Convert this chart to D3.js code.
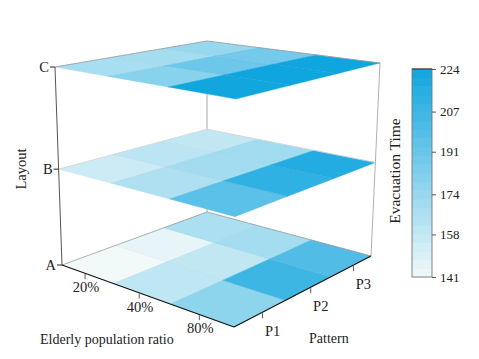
<!DOCTYPE html>
<html>
<head>
<meta charset="utf-8">
<script src="https://cdn.jsdelivr.net/npm/d3@7"></script>
<style>
  html, body { margin: 0; padding: 0; background: #fff; }
  text { font-family: "Liberation Serif", serif; fill: #222; }
</style>
</head>
<body>
<svg id="chart" width="479" height="359"></svg>
<script>
'use strict';

// rows are elderly ratio (20, 40, 80), columns are pattern (P1, P2, P3)
var ratios = ['20%', '40%', '80%'];
var patterns = ['P1', 'P2', 'P3'];
var layouts = ['A', 'B', 'C'];
var valuesA = [[141, 145, 167], [160, 159, 169], [178, 207, 200]];
var valuesB = [[155, 161, 159], [166, 170, 171], [196, 212, 217]];
var valuesC = [[168, 169, 174], [180, 190, 187], [223, 224, 224]];
var colorTicks = [141, 158, 174, 191, 207, 224];

var layerValues = [valuesA, valuesB, valuesC];

var svg = d3.select('#chart');

// frame corners of the floor and the lid, order: left, front, right, back
var floorCorners = [[62, 265], [234, 327], [371, 256], [207, 212]];
var lidCorners = [[55, 67], [236, 99], [380, 63], [207, 41]];

var z = d3.scalePoint().domain(layouts).range([0, 1]);
var zHeight = d3.scaleLinear().domain([0, 0.5, 1]).range([0, 0.484, 1]);
var u = d3.scaleLinear().domain([0, ratios.length]).range([0, 1]);
var v = d3.scaleLinear().domain([0, patterns.length]).range([0, 1]);

var color = d3.scaleLinear().domain([141, 224]).range(['#f2f9f9', '#0fa5df']).interpolate(d3.interpolateRgb);

// unit square to quad, perspective
function makeHomography(q) {
  var dx1 = q[1][0] - q[2][0], dx2 = q[3][0] - q[2][0], sx = q[0][0] - q[1][0] + q[2][0] - q[3][0];
  var dy1 = q[1][1] - q[2][1], dy2 = q[3][1] - q[2][1], sy = q[0][1] - q[1][1] + q[2][1] - q[3][1];
  var det = dx1 * dy2 - dx2 * dy1;
  var g = (sx * dy2 - dx2 * sy) / det;
  var h = (dx1 * sy - sx * dy1) / det;
  var a = q[1][0] - q[0][0] + g * q[1][0];
  var b = q[3][0] - q[0][0] + h * q[3][0];
  var d = q[1][1] - q[0][1] + g * q[1][1];
  var e = q[3][1] - q[0][1] + h * q[3][1];
  return function (s, t) {
    var w = g * s + h * t + 1;
    return [(a * s + b * t + q[0][0]) / w, (d * s + e * t + q[0][1]) / w];
  };
}

function layerProjection(layout) {
  var t = zHeight(z(layout));
  var quad = floorCorners.map(function (c, i) {
    return [c[0] + (lidCorners[i][0] - c[0]) * t, c[1] + (lidCorners[i][1] - c[1]) * t];
  });
  var h = makeHomography(quad);
  return function (i, j) {
    return h(u(i), v(j));
  };
}

function linePath(points) {
  return d3.line()(points);
}

function drawSegment(a, b, stroke, width) {
  svg.append('path').attr('d', linePath([a, b])).attr('fill', 'none')
    .attr('stroke', stroke).attr('stroke-width', width);
}

var floor = layerProjection('A');
var lid = layerProjection('C');
var nr = ratios.length;
var np = patterns.length;

// back vertical goes behind the layers
drawSegment(floor(0, np), lid(0, np), '#b8b8b8', 1.2);
drawSegment(floor(nr, np), lid(nr, np), '#9a9a9a', 0.8);

layouts.forEach(function (layout, k) {
  var project = layerProjection(layout);
  var cells = [];
  layerValues[k].forEach(function (row, i) {
    row.forEach(function (value, j) {
      cells.push({ i: i, j: j, value: value });
    });
  });
  var g = svg.append('g').attr('class', 'layer-' + layout);
  g.selectAll('path.cell').data(cells).enter().append('path')
    .attr('class', 'cell')
    .attr('d', function (d) {
      return linePath([project(d.i, d.j), project(d.i + 1, d.j), project(d.i + 1, d.j + 1), project(d.i, d.j + 1)]) + 'Z';
    })
    .attr('fill', function (d) { return color(d.value); })
    .attr('stroke', function (d) { return color(d.value); })
    .attr('stroke-width', 0.4);

  // faint seams at the cell boundaries
  d3.range(1, nr).forEach(function (i) {
    g.append('path').attr('d', linePath([project(i, 0), project(i, np)]))
      .attr('stroke', '#556').attr('stroke-opacity', 0.08).attr('stroke-width', 0.6).attr('fill', 'none');
  });
  d3.range(1, np).forEach(function (j) {
    g.append('path').attr('d', linePath([project(0, j), project(nr, j)]))
      .attr('stroke', '#556').attr('stroke-opacity', 0.08).attr('stroke-width', 0.6).attr('fill', 'none');
  });

  // back edges of the plane
  var edge = layout == 'B' ? '#d4d4d4' : '#9c9c9c';
  g.append('path').attr('d', linePath([project(0, 0), project(0, np), project(nr, np)]))
    .attr('fill', 'none').attr('stroke', edge).attr('stroke-width', 0.8);

  // layout tick and label on the left vertical
  var p = project(0, 0);
  drawSegment([p[0] - 5, p[1]], p, '#222', 1);
  svg.append('text').attr('x', p[0] - 6).attr('y', p[1] + 5)
    .attr('text-anchor', 'end').attr('font-size', 14.5).text(layout);
});

// left vertical and the two front axes
drawSegment(floor(0, 0), lid(0, 0), '#555', 1);
drawSegment(floor(0, 0), floor(nr, 0), '#111', 1.1);
drawSegment(floor(nr, 0), floor(nr, np), '#111', 1.1);

ratios.forEach(function (label, i) {
  var p = floor(i + 0.5, 0);
  drawSegment([p[0] - 2, p[1]], [p[0] - 2, p[1] + 5], '#444', 0.9);
  svg.append('text').attr('x', p[0] - 1).attr('y', p[1] + 18)
    .attr('text-anchor', 'middle').attr('font-size', 14.5).text(label);
});

patterns.forEach(function (label, j) {
  var p = floor(nr, j + 0.5);
  drawSegment([p[0] + 2, p[1]], [p[0] + 2, p[1] + 5], '#444', 0.9);
  svg.append('text').attr('x', p[0] + 12).attr('y', p[1] + 23)
    .attr('text-anchor', 'middle').attr('font-size', 14.5).text(label);
});

svg.append('text').attr('x', 40).attr('y', 344).attr('font-size', 14).text('Elderly population ratio');
svg.append('text').attr('x', 309).attr('y', 343).attr('font-size', 14).text('Pattern');
svg.append('text').attr('transform', 'translate(26,169) rotate(-90)')
  .attr('text-anchor', 'middle').attr('font-size', 14.5).text('Layout');
svg.append('text').attr('transform', 'translate(400,171) rotate(-90)')
  .attr('text-anchor', 'middle').attr('font-size', 15.5).text('Evacuation Time');

// colour bar
var barX = 412;
var barWidth = 20;
var barY = d3.scaleLinear().domain([141, 224]).range([277, 69]);
var bandEdges = d3.range(0, 25).map(function (i) { return 141 + i * (224 - 141) / 24; });
var bar = svg.append('g').attr('class', 'colorbar');
bar.selectAll('rect').data(d3.pairs(bandEdges)).enter().append('rect')
  .attr('x', barX)
  .attr('width', barWidth)
  .attr('y', function (d) { return barY(d[1]); })
  .attr('height', function (d) { return barY(d[0]) - barY(d[1]) + 0.5; })
  .attr('fill', function (d) { return color((d[0] + d[1]) / 2); });
bar.append('rect').attr('x', barX).attr('y', barY(224)).attr('width', barWidth)
  .attr('height', barY(141) - barY(224)).attr('fill', 'none').attr('stroke', '#777').attr('stroke-width', 0.9);
drawSegment([barX, barY(224)], [barX + barWidth, barY(224)], '#333', 1);

var barAxis = d3.axisRight(barY).tickValues(colorTicks).tickSize(4).tickSizeOuter(0).tickPadding(4);
var barAxisG = svg.append('g').attr('transform', 'translate(' + (barX + barWidth) + ',0)').call(barAxis);
barAxisG.select('.domain').remove();
barAxisG.selectAll('line').attr('stroke', '#444').attr('stroke-width', 0.9);
barAxisG.selectAll('text').attr('font-family', '"Liberation Serif", serif').attr('font-size', 13).attr('fill', '#222');
</script>
</body>
</html>
